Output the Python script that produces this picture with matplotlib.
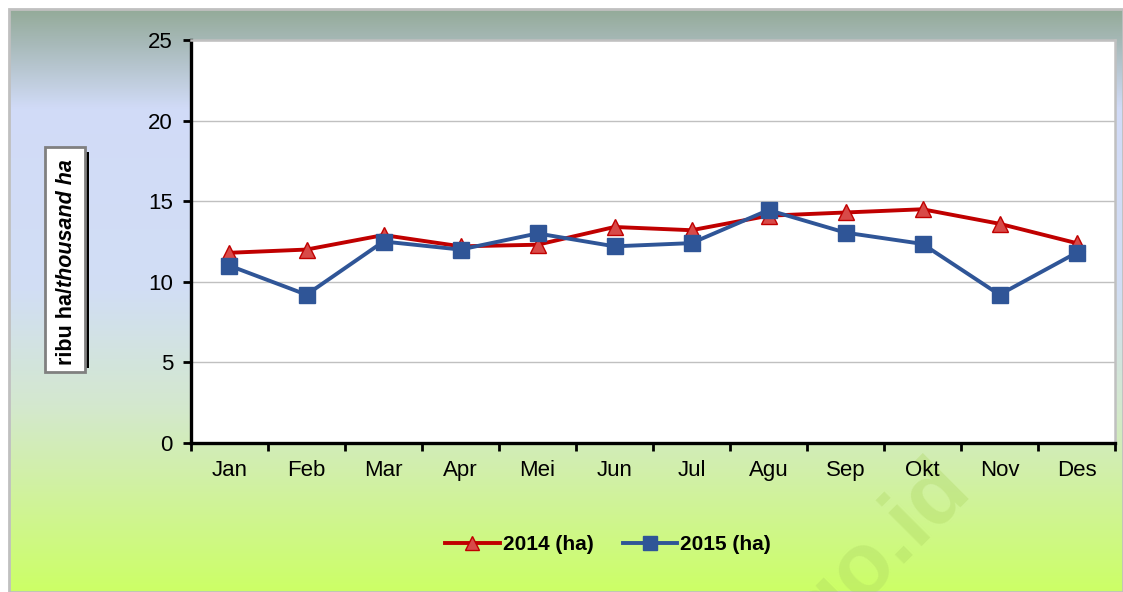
import numpy as np
import matplotlib
matplotlib.use("Agg")
import matplotlib.pyplot as plt
from matplotlib.colors import LinearSegmentedColormap
from matplotlib.patches import Rectangle
from matplotlib.lines import Line2D

months = ["Jan", "Feb", "Mar", "Apr", "Mei", "Jun", "Jul", "Agu", "Sep", "Okt", "Nov", "Des"]
vals_2014 = [11.8, 12.0, 12.9, 12.2, 12.3, 13.4, 13.2, 14.1, 14.3, 14.5, 13.6, 12.4]
vals_2015 = [11.0, 9.2, 12.5, 12.0, 13.0, 12.2, 12.4, 14.45, 13.05, 12.35, 9.2, 11.8]
series_names = ["2014 (ha)", "2015 (ha)"]
yticks = [0, 5, 10, 15, 20, 25]

plt.rcParams['font.family'] = ['Liberation Sans Narrow', 'Liberation Sans', 'DejaVu Sans']

W, H = 1123, 592
fig = plt.figure(figsize=(W / 100, H / 100), dpi=100)
fig.patch.set_facecolor('white')

# background gradient panel
bg = fig.add_axes([10 / W, 0, (W - 10) / W, (H - 9) / H], zorder=-10)
stops = [(0.0, (0.58, 0.67, 0.60)), (0.06, (0.66, 0.73, 0.73)), (0.17, (0.82, 0.86, 0.97)),
         (0.48, (0.82, 0.87, 0.96)), (0.68, (0.83, 0.91, 0.81)), (0.80, (0.82, 0.94, 0.66)),
         (1.0, (0.80, 1.0, 0.40))]
cmap = LinearSegmentedColormap.from_list('bgc', stops)
grad = np.linspace(0, 1, 256).reshape(-1, 1)
bg.imshow(grad, aspect='auto', cmap=cmap, extent=[0, 1, 0, 1], origin='upper')
bg.set_xlim(0, 1); bg.set_ylim(0, 1)
bg.axis('off')
fig.patches.append(Rectangle((9 / W, 0), (W - 9) / W, (H - 8.5) / H, transform=fig.transFigure,
                             fill=False, edgecolor='#c0c0c0', linewidth=2, zorder=-9))

# watermark (partly hidden behind the plot area, as in the original)
fig.text(972 / W, 1 - 490 / H, "bps.go.id", rotation=45, ha='right', va='baseline',
         fontsize=64, fontweight='bold', family=['Liberation Sans', 'DejaVu Sans'],
         color=(0.68, 0.84, 0.38), alpha=0.35, zorder=-5, rotation_mode='anchor')

ax = fig.add_axes([191 / W, 149 / H, 924 / W, 403 / H], zorder=0)
ax.set_facecolor('white')
x = np.arange(len(months))
ax.plot(x, vals_2014, color='#c00000', linewidth=2.8, marker='^', markersize=11,
        markerfacecolor='#d84a48', markeredgecolor='#c00000', markeredgewidth=1, label=series_names[0], zorder=3)
ax.plot(x, vals_2015, color='#2f5597', linewidth=2.8, marker='s', markersize=11,
        markerfacecolor='#2f5597', markeredgecolor='#2f5597', label=series_names[1], zorder=3)

ax.set_xlim(-0.5, len(months) - 0.5)
ax.set_ylim(0, 25)
ax.set_yticks(yticks)
ax.set_yticklabels([str(v) for v in yticks])
ax.yaxis.grid(True, color='#c0c0c0', linewidth=1)
ax.set_axisbelow(True)

ax.set_xticks(np.arange(-0.5, len(months), 1.0))
ax.set_xticklabels([])
ax.set_xticks(x, minor=True)
ax.set_xticklabels(months, minor=True)
ax.tick_params(axis='x', which='major', direction='out', length=6, width=2, color='black')
ax.tick_params(axis='x', which='minor', length=0, pad=12, labelsize=16)
ax.tick_params(axis='y', direction='out', length=6, width=2, pad=7, labelsize=16)

for s in ['left', 'bottom']:
    ax.spines[s].set_color('black')
    ax.spines[s].set_linewidth(2.4)
for s in ['top', 'right']:
    ax.spines[s].set_color('#c0c0c0')
    ax.spines[s].set_linewidth(1.8)

# legend
handles = [Line2D([], [], color='#c00000', linewidth=2.8, marker='^', markersize=10,
                  markerfacecolor='#d84a48', markeredgecolor='#c00000'),
           Line2D([], [], color='#2f5597', linewidth=2.8, marker='s', markersize=10,
                  markerfacecolor='#2f5597', markeredgecolor='#2f5597')]
fig.legend(handles, series_names, loc='center', bbox_to_anchor=(608 / W, 1 - 545 / H), ncol=2,
           frameon=False, prop={'weight': 'bold', 'size': 15}, handlelength=2.6,
           handletextpad=0.15, columnspacing=1.4)

# y label box with shadow
fig.patches.append(Rectangle((85 / W, 1 - 368 / H), 4 / W, 216 / H, transform=fig.transFigure,
                             facecolor='black', edgecolor='none', zorder=1))
fig.patches.append(Rectangle((45 / W, 1 - 372 / H), 40 / W, 225 / H, transform=fig.transFigure,
                             facecolor='white', edgecolor='#808080', linewidth=2, zorder=2))
t1 = fig.text(66 / W, 1 - 365 / H, "ribu ha/", rotation=90, ha='center', va='bottom',
              fontsize=15.5, fontweight='bold', zorder=3)
fig.canvas.draw()
ext = t1.get_window_extent()
top_frac = ext.y1 / fig.bbox.height
fig.text(66 / W, top_frac, "thousand ha", rotation=90, ha='center', va='bottom',
         fontsize=15.5, fontweight='bold', fontstyle='italic', zorder=3)

fig.savefig('out.png', dpi=100)
